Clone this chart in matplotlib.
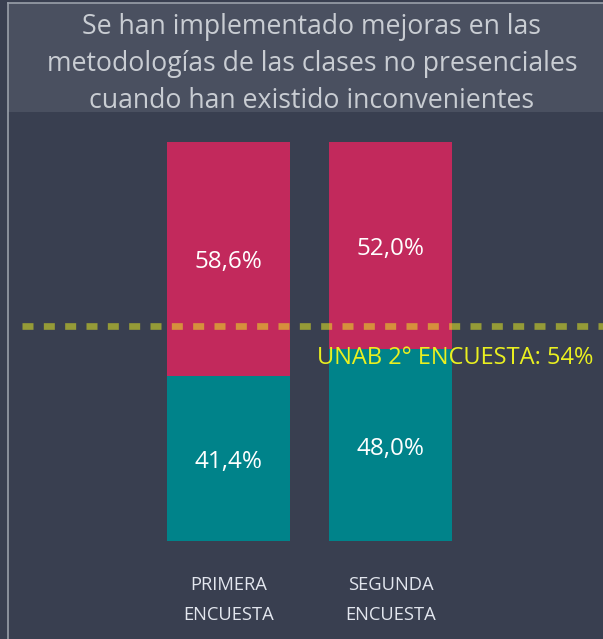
import matplotlib
matplotlib.use("Agg")
import matplotlib.pyplot as plt
from matplotlib.patches import Rectangle
from matplotlib.lines import Line2D

categories = ["PRIMERA\nENCUESTA", "SEGUNDA\nENCUESTA"]
bottom_vals = [41.4, 48.0]   # teal
top_vals = [58.6, 52.0]      # crimson
reference_value = 54
reference_label = "UNAB 2° ENCUESTA: 54%"
title = "Se han implementado mejoras en las\nmetodologías de las clases no presenciales\ncuando han existido inconvenientes"

W, H = 603, 639
BG = "#393f50"
TITLE_BG = "#4a5060"
TEAL = "#00838a"
CRIMSON = "#c2295c"
YELLOW = "#eaf020"

plt.rcParams['font.family'] = ['Open Sans', 'DejaVu Sans']
fig = plt.figure(figsize=(W/100, H/100), dpi=100, facecolor=BG)

def fx(px): return px / W
def fy(py): return 1 - py / H

ax_left, ax_right, ax_top, ax_bot = 8, 603, 112, 639
ax = fig.add_axes([fx(ax_left), fy(ax_bot), fx(ax_right - ax_left), (ax_bot - ax_top) / H])
ax.set_facecolor(BG)
for s in ax.spines.values():
    s.set_visible(False)

c0, step, bw = 228.5, 162.0, 123.0
ax.set_xlim(-(c0 - ax_left) / step, (ax_right - c0) / step)
y0px, y100px = 541, 142
ppu = (y0px - y100px) / 100.0
ax.set_ylim(-(ax_bot - y0px) / ppu, 100 + (y100px - ax_top) / ppu)

x = list(range(len(categories)))
width = bw / step
ax.bar(x, bottom_vals, width=width, color=TEAL, zorder=2)
ax.bar(x, top_vals, width=width, bottom=bottom_vals, color=CRIMSON, zorder=2)

def fmt(v):
    return f"{v:.1f}%".replace(".", ",")

off = 3.5 / ppu
for i in x:
    ax.text(i, bottom_vals[i] / 2 - off, fmt(bottom_vals[i]), ha="center", va="center",
            color="white", fontsize=17.5, zorder=4)
    ax.text(i, bottom_vals[i] + top_vals[i] / 2 - off, fmt(top_vals[i]), ha="center", va="center",
            color="white", fontsize=17.5, zorder=4)

ax.axhline(reference_value, xmin=(21.7 - ax_left) / (ax_right - ax_left), color=YELLOW,
           alpha=0.52, lw=4.8, linestyle=(0, (1.65, 1.55)), zorder=3)
ax.text(ax.get_xlim()[1] - 10 / step, reference_value - 32 / ppu, reference_label,
        ha="right", va="center", color=YELLOW, fontsize=17, zorder=5)

ax.set_xticks([])
ax.set_yticks([])
for i in x:
    ax.text(i, -(600 - y0px) / ppu, categories[i], ha="center", va="center",
            color="#e2e6ee", fontsize=13.2, linespacing=1.85)

fig.patches.append(Rectangle((fx(8), fy(112)), fx(595), (112 - 3) / H,
                             transform=fig.transFigure, facecolor=TITLE_BG,
                             edgecolor="none", zorder=0))
fig.add_artist(Line2D([fx(8), fx(603)], [fy(3), fy(3)], color="#9aa0aa", lw=1.2))
fig.add_artist(Line2D([fx(8), fx(8)], [fy(3), fy(639)], color="#9aa0aa", lw=1.2))
fig.text(fx(312), fy(64), title, ha="center", va="center", color="#c9cdd3",
         fontsize=19.2, linespacing=1.42)

fig.savefig("out.png", dpi=100, facecolor=BG)
